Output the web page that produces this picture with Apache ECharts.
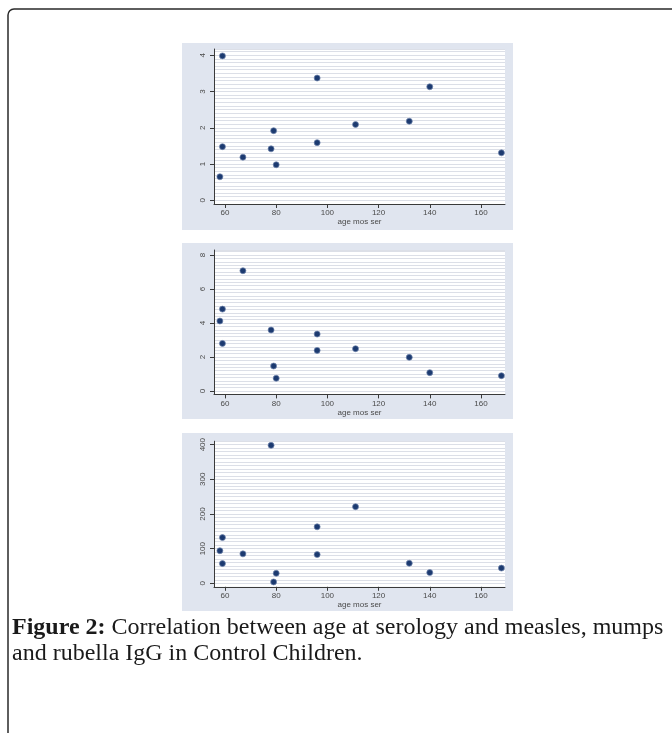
<!DOCTYPE html>
<html>
<head>
<meta charset="utf-8">
<script src="https://cdn.jsdelivr.net/npm/echarts@6/dist/echarts.min.js"></script>
<style>
  html, body { margin: 0; padding: 0; background: #ffffff; }
  #chart { width: 672px; height: 733px; }
</style>
</head>
<body>
<div id="chart"></div>
<script>
// ---- data ----
const ages    = [58, 59, 59, 67, 78, 79, 80, 96, 96, 111, 132, 140, 168];
const measles = [0.65, 3.98, 1.48, 1.19, 1.42, 1.92, 0.98, 3.37, 1.59, 2.09, 2.18, 3.13, 1.31];
const mumps   = [4.12, 4.82, 2.80, 7.08, 3.59, 1.47, 0.75, 3.35, 2.39, 2.49, 1.98, 1.08, 0.90];
const rubella = [94, 132, 57, 85, 398, 4, 29, 163, 83, 221, 58, 31, 44];

const xTicks = [60, 80, 100, 120, 140, 160];
const yTicks1 = [0, 1, 2, 3, 4];
const yTicks2 = [0, 2, 4, 6, 8];
const yTicks3 = [0, 100, 200, 300, 400];
const xTitle = 'age mos ser';
const captionBold = 'Figure 2:';
const captionLine1 = ' Correlation between age at serology and measles, mumps';
const captionLine2 = 'and rubella IgG in Control Children.';

// ---- styles ----
const labelColor = '#4a4a4a';
const axisColor = '#3a3a3a';
const gridLineColor = '#dcdfe7';
const panelBg = '#e0e5ef';
const pointColor = '#1c3a70';

function pairs(xs, ys) { return xs.map((x, i) => [x, ys[i]]); }

function makeX(idx) {
  return {
    gridIndex: idx, type: 'value', min: 55.7, max: 169.4,
    name: xTitle, nameLocation: 'middle', nameGap: 12,
    nameTextStyle: { fontSize: 8, color: labelColor, fontFamily: 'Liberation Sans' },
    axisLine: { onZero: false, lineStyle: { color: axisColor, width: 1 } },
    axisTick: { show: true, length: 4, customValues: xTicks, lineStyle: { color: axisColor } },
    axisLabel: { customValues: xTicks, fontSize: 8, color: labelColor, margin: 5, fontFamily: 'Liberation Sans' },
    splitLine: { show: false }
  };
}
function makeY(idx, min, max, ticks) {
  return {
    gridIndex: idx, type: 'value', min: min, max: max, position: 'left',
    axisLine: { show: true, onZero: false, lineStyle: { color: axisColor, width: 1 } },
    axisTick: { show: true, length: 4, customValues: ticks, lineStyle: { color: axisColor } },
    axisLabel: { customValues: ticks, fontSize: 8, color: labelColor, rotate: 90, margin: 7, fontFamily: 'Liberation Sans' },
    splitLine: { show: false }
  };
}
// hidden companion axis that only draws the fine horizontal rules
function makeRuleY(idx, min, max, interval) {
  return {
    gridIndex: idx, type: 'value', min: min, max: max, interval: interval, position: 'right',
    axisLine: { show: false }, axisTick: { show: false }, axisLabel: { show: false },
    splitLine: { show: true, lineStyle: { color: gridLineColor, width: 1 } }
  };
}
function makeSeries(idx, ys) {
  return {
    type: 'scatter', xAxisIndex: idx, yAxisIndex: idx * 2,
    data: pairs(ages, ys), symbol: 'circle', symbolSize: 6,
    itemStyle: { color: pointColor, borderColor: '#7386ad', borderWidth: 0.7, opacity: 1 },
    emphasis: { disabled: true }
  };
}

const chart = echarts.init(document.getElementById('chart'), null, { renderer: 'canvas' });
chart.setOption({
  animation: false,
  backgroundColor: '#ffffff',
  graphic: [
    { type: 'rect', z: -10, shape: { x: 8, y: 9, width: 800, height: 900, r: [6, 0, 0, 0] },
      style: { fill: null, stroke: '#2a2a2a', lineWidth: 1.5 } },
    { type: 'rect', z: -5, shape: { x: 182, y: 43, width: 331, height: 187 }, style: { fill: panelBg } },
    { type: 'rect', z: -5, shape: { x: 182, y: 243, width: 331, height: 176 }, style: { fill: panelBg } },
    { type: 'rect', z: -5, shape: { x: 182, y: 433, width: 331, height: 178 }, style: { fill: panelBg } },
    { type: 'text', left: 12, top: 615, z: 10,
      style: {
        text: '{b|' + captionBold + '}' + captionLine1 + '\n' + captionLine2,
        fontFamily: 'Liberation Serif', fontSize: 24, fill: '#1a1a1a', lineHeight: 26,
        rich: { b: { fontWeight: 'bold', fontFamily: 'Liberation Serif', fontSize: 24, fill: '#1a1a1a', lineHeight: 26 } }
      } }
  ],
  grid: [
    { left: 214, width: 291, top: 49, height: 155, show: true, backgroundColor: '#ffffff', borderWidth: 0 },
    { left: 214, width: 291, top: 250, height: 144.4, show: true, backgroundColor: '#ffffff', borderWidth: 0 },
    { left: 214, width: 291, top: 441.2, height: 145.6, show: true, backgroundColor: '#ffffff', borderWidth: 0 }
  ],
  xAxis: [makeX(0), makeX(1), makeX(2)],
  yAxis: [
    makeY(0, -0.1, 4.17, yTicks1), makeRuleY(0, -0.1, 4.17, 0.1),
    makeY(1, -0.2, 8.3, yTicks2), makeRuleY(1, -0.2, 8.3, 0.2),
    makeY(2, -10, 410, yTicks3), makeRuleY(2, -10, 410, 10)
  ],
  series: [makeSeries(0, measles), makeSeries(1, mumps), makeSeries(2, rubella)]
});
</script>
</body>
</html>
